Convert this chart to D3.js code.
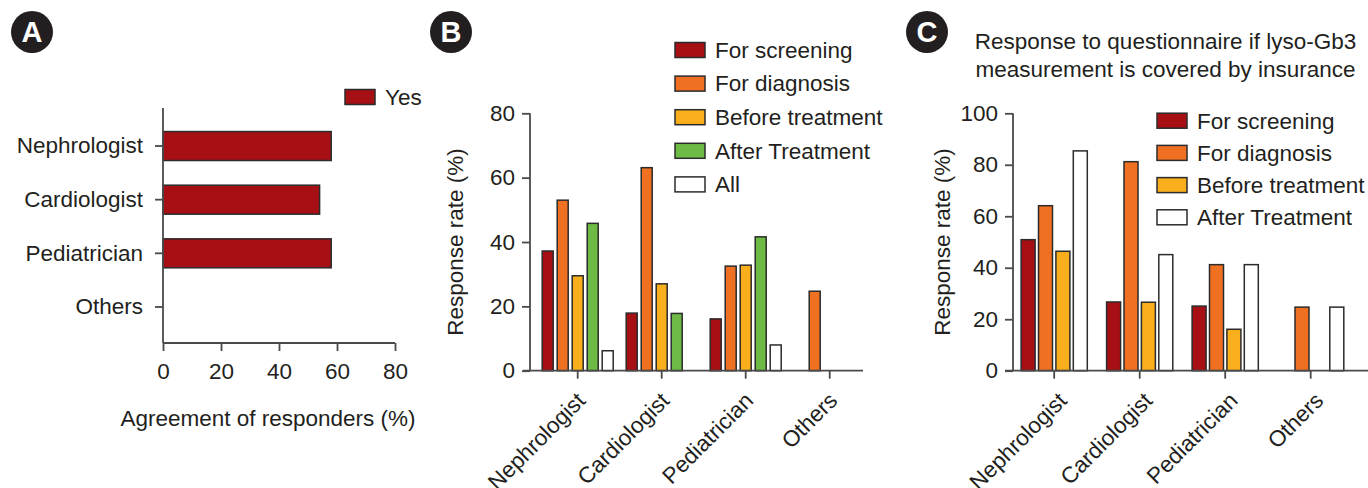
<!DOCTYPE html>
<html>
<head>
<meta charset="utf-8">
<script src="https://cdn.jsdelivr.net/npm/d3@7"></script>
<style>
  html, body { margin: 0; padding: 0; background: #fff; }
  svg { display: block; }
  text { font-family: "Liberation Sans", Arial, Helvetica, sans-serif; fill: #231f20; }
</style>
</head>
<body>
<svg id="fig" width="1368" height="488"></svg>
<script>
// ---- data ----
const specialties = ["Nephrologist", "Cardiologist", "Pediatrician", "Others"];

// Panel A: agreement of responders (%)
const agreeYes = [58, 54, 58, 0];
const ticksA = [0, 20, 40, 60, 80];

// Panel B: response rate (%) by purpose
const seriesB = ["For screening", "For diagnosis", "Before treatment", "After Treatment", "All"];
const bScreening = [37.2, 17.9, 16.1, 0];
const bDiagnosis = [53.0, 63.1, 32.5, 24.7];
const bBefore    = [29.5, 27.0, 32.8, 0];
const bAfter     = [45.8, 17.8, 41.6, 0];
const bAll       = [6.2, 0, 8.0, 0];
const ticksB = [0, 20, 40, 60, 80];

// Panel C: response rate (%) if lyso-Gb3 measurement is covered by insurance
const seriesC = ["For screening", "For diagnosis", "Before treatment", "After Treatment"];
const cScreening = [50.9, 26.7, 25.1, 0];
const cDiagnosis = [64.1, 81.2, 41.2, 24.7];
const cBefore    = [46.4, 26.6, 16.1, 0];
const cAfter     = [85.4, 45.1, 41.2, 24.7];
const ticksC = [0, 20, 40, 60, 80, 100];

const titleC = ["Response to questionnaire if lyso-Gb3", "measurement is covered by insurance"];

// ---- styles ----
const RED = "#a60f14", ORANGE = "#f07022", YELLOW = "#f9ae1c", GREEN = "#6dbb45", WHITE = "#ffffff";
const AXIS = "#4a4a4a", EDGE = "#2b2b2b", FS = 22.5;

const svg = d3.select("#fig");

function styleAxis(g) {
  g.select(".domain").remove();
  g.selectAll(".tick line").attr("stroke", AXIS).attr("stroke-width", 1.8);
  g.selectAll(".tick text").attr("font-size", FS).attr("fill", "#231f20")
    .attr("font-family", "Liberation Sans, Arial, sans-serif");
}

function panelBadge(cx, cy, letter) {
  svg.append("circle").attr("cx", cx).attr("cy", cy).attr("r", 21).attr("fill", "#231f20");
  svg.append("text").attr("x", cx).attr("y", cy).attr("dy", "0.36em")
    .attr("text-anchor", "middle").attr("font-size", 29).attr("font-weight", "bold")
    .style("fill", "#fff").text(letter);
}

function legend(x, y0, step, names, colors) {
  const g = svg.append("g");
  names.forEach((n, i) => {
    const cy = y0 + i * step;
    g.append("rect").attr("x", x).attr("y", cy - 7.5).attr("width", 30).attr("height", 15)
      .attr("fill", colors[i]).attr("stroke", EDGE).attr("stroke-width", 1.5);
    g.append("text").attr("x", x + 40).attr("y", cy).attr("dy", "0.35em")
      .attr("font-size", FS).text(n);
  });
}

// ================= Panel A =================
panelBadge(32, 32, "A");
{
  const x = d3.scaleLinear().domain([0, 80]).range([163, 395]);
  const y = d3.scaleBand().domain(specialties).range([119.2, 333.8]).paddingInner(0.46).paddingOuter(0.23);

  svg.append("g").selectAll("rect").data(specialties).join("rect")
    .attr("x", x(0)).attr("y", d => y(d))
    .attr("width", (d, i) => x(agreeYes[i]) - x(0)).attr("height", y.bandwidth())
    .attr("fill", RED).attr("stroke", EDGE).attr("stroke-width", 1.5)
    .attr("display", (d, i) => agreeYes[i] > 0 ? null : "none");

  svg.append("g").attr("transform", "translate(163,0)")
    .call(d3.axisLeft(y).tickSize(8).tickPadding(12)).call(styleAxis);
  svg.append("g").attr("transform", "translate(0,343)")
    .call(d3.axisBottom(x).tickValues(ticksA).tickSize(8).tickPadding(12)).call(styleAxis);

  svg.append("line").attr("x1", 163).attr("x2", 163).attr("y1", 108).attr("y2", 343)
    .attr("stroke", AXIS).attr("stroke-width", 1.8);
  svg.append("line").attr("x1", 163).attr("x2", 395).attr("y1", 343).attr("y2", 343)
    .attr("stroke", AXIS).attr("stroke-width", 1.8);

  svg.append("text").attr("x", 268).attr("y", 426).attr("text-anchor", "middle")
    .attr("font-size", FS).text("Agreement of responders (%)");

  legend(345, 97, 0, ["Yes"], [RED]);
}

// ================= grouped bar panels =================
function groupedPanel(opt) {
  const { axisX, xStart, xEnd, step, groupWidth, barFrac, yMax, ticks, series, values, colors } = opt;
  const y = d3.scaleLinear().domain([0, yMax]).range([370.7, 113.3]);
  const c0 = opt.firstCenter;
  const x0 = d3.scaleBand().domain(specialties).range([c0 - step / 2, c0 - step / 2 + step * specialties.length]);
  const pIn = 1 - barFrac;
  const x1 = d3.scaleBand().domain(series).range([-groupWidth / 2, groupWidth / 2])
    .paddingInner(pIn).paddingOuter(pIn / 2);

  const g = svg.append("g");
  specialties.forEach((sp, i) => {
    const cx = x0(sp) + x0.bandwidth() / 2;
    series.forEach((s, k) => {
      const v = values[k][i];
      if (v <= 0) return;
      g.append("rect")
        .attr("x", cx + x1(s)).attr("width", x1.bandwidth())
        .attr("y", y(v)).attr("height", y(0) - y(v))
        .attr("fill", colors[k]).attr("stroke", EDGE).attr("stroke-width", 1.5);
    });
  });

  // y axis
  svg.append("g").attr("transform", `translate(${axisX},0)`)
    .call(d3.axisLeft(y).tickValues(ticks).tickSize(8).tickPadding(7)).call(styleAxis);
  svg.append("line").attr("x1", axisX).attr("x2", axisX).attr("y1", 113.3).attr("y2", 370.7)
    .attr("stroke", AXIS).attr("stroke-width", 1.8);
  // x axis
  svg.append("line").attr("x1", xStart).attr("x2", xEnd).attr("y1", 370.7).attr("y2", 370.7)
    .attr("stroke", AXIS).attr("stroke-width", 1.8);
  svg.append("g").attr("transform", "translate(0,370.7)")
    .call(d3.axisBottom(x0).tickSize(8).tickFormat("")).call(styleAxis);

  specialties.forEach(sp => {
    const cx = x0(sp) + x0.bandwidth() / 2;
    svg.append("text")
      .attr("transform", `translate(${cx + opt.labelDx},${402}) rotate(-45)`)
      .attr("text-anchor", "end").attr("font-size", FS).text(sp);
  });

  svg.append("text")
    .attr("transform", `translate(${opt.labelX},242) rotate(-90)`)
    .attr("text-anchor", "middle").attr("dy", "0.35em").attr("font-size", FS)
    .text("Response rate (%)");
}

// ================= Panel B =================
panelBadge(451, 32, "B");
groupedPanel({
  axisX: 530, xStart: 523, xEnd: 863,
  firstCenter: 577.7, step: 84, groupWidth: 75, barFrac: 11 / 15,
  yMax: 80, ticks: ticksB, series: seriesB,
  values: [bScreening, bDiagnosis, bBefore, bAfter, bAll],
  colors: [RED, ORANGE, YELLOW, GREEN, WHITE],
  labelX: 455, labelDx: 9
});
legend(675, 50, 33.6, seriesB, [RED, ORANGE, YELLOW, GREEN, WHITE]);

// ================= Panel C =================
panelBadge(927, 32, "C");
svg.append("g").selectAll("text").data(titleC).join("text")
  .attr("x", 1165.5).attr("y", (d, i) => 49 + i * 28)
  .attr("text-anchor", "middle").attr("font-size", FS).text(d => d);
groupedPanel({
  axisX: 1013, xStart: 1005, xEnd: 1368,
  firstCenter: 1054.2, step: 85.5, groupWidth: 69.6, barFrac: 14 / 17.4,
  yMax: 100, ticks: ticksC, series: seriesC,
  values: [cScreening, cDiagnosis, cBefore, cAfter],
  colors: [RED, ORANGE, YELLOW, WHITE],
  labelX: 942, labelDx: 14
});
legend(1157, 120.7, 32.2, seriesC, [RED, ORANGE, YELLOW, WHITE]);
</script>
</body>
</html>
